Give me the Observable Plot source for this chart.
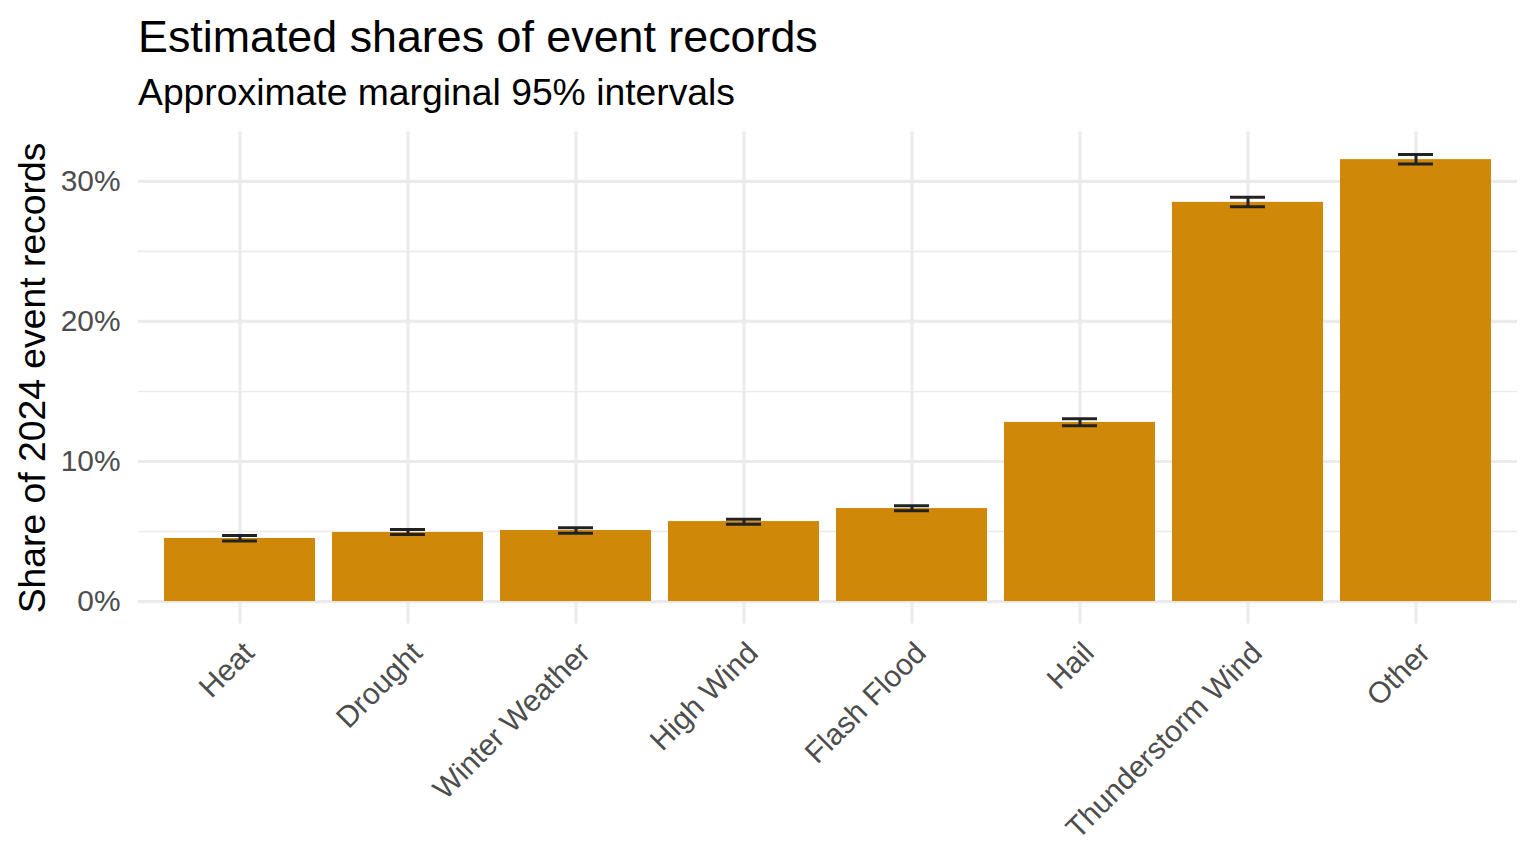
<!DOCTYPE html>
<html>
<head>
<meta charset="utf-8">
<script src="https://cdn.jsdelivr.net/npm/d3@7"></script>
<script src="https://cdn.jsdelivr.net/npm/@observablehq/plot@0.6"></script>
<style>
  html, body { margin: 0; padding: 0; background: #ffffff; }
  body { width: 1536px; height: 864px; overflow: hidden; font-family: "Liberation Sans", Arial, Helvetica, sans-serif; }
  #header { position: relative; height: 120px; width: 1536px; }
  #title { position: absolute; left: 138px; top: 14px; font-size: 44.8px; line-height: 1; color: #000; white-space: nowrap; }
  #subtitle { position: absolute; left: 138px; top: 74px; font-size: 37.3px; line-height: 1; color: #000; white-space: nowrap; }
  #chart svg { display: block; }
</style>
</head>
<body>
<div id="header">
  <div id="title">Estimated shares of event records</div>
  <div id="subtitle">Approximate marginal 95% intervals</div>
</div>
<div id="chart"></div>
<script>
const categories = ["Heat", "Drought", "Winter Weather", "High Wind", "Flash Flood", "Hail", "Thunderstorm Wind", "Other"];
const shares = [4.50, 4.93, 5.07, 5.71, 6.64, 12.79, 28.50, 31.55];
const lower  = [4.32, 4.79, 4.88, 5.52, 6.48, 12.55, 28.19, 31.24];
const upper  = [4.72, 5.14, 5.26, 5.88, 6.84, 13.05, 28.86, 31.92];
const yTicks = [0, 10, 20, 30];
const yMinorTicks = [5, 15, 25];
const yLabel = "Share of 2024 event records";

const data = categories.map((c, i) => ({category: c, share: shares[i], lower: lower[i], upper: upper[i]}));

const yMax = d3.max(upper);
const pad = yMax * 0.05;
const grid = "#ebebeb";
const errColor = "#222222";

const chart = Plot.plot({
  width: 1536,
  height: 744,
  marginTop: 11.6,
  marginBottom: 240.6,
  marginLeft: 138,
  marginRight: 19,
  style: {fontFamily: "Liberation Sans, Arial, Helvetica, sans-serif", background: "#ffffff", color: "#000"},
  x: {domain: categories, paddingInner: 0.1, paddingOuter: 0.15, axis: null},
  y: {domain: [-pad, yMax + pad], axis: null},
  marks: [
    Plot.ruleY(yMinorTicks, {stroke: grid, strokeWidth: 1.6}),
    Plot.ruleY(yTicks, {stroke: grid, strokeWidth: 3.2}),
    Plot.ruleX(categories, {x: d => d, stroke: grid, strokeWidth: 3.2}),
    Plot.barY(data, {x: "category", y: "share", fill: "#CF8808"}),
    Plot.ruleX(data, {x: "category", y1: "lower", y2: "upper", stroke: errColor, strokeWidth: 3}),
    Plot.tickY(data, {x: "category", y: "lower", stroke: errColor, strokeWidth: 3, insetLeft: 58, insetRight: 58}),
    Plot.tickY(data, {x: "category", y: "upper", stroke: errColor, strokeWidth: 3, insetLeft: 58, insetRight: 58}),
    Plot.axisY({ticks: yTicks, tickSize: 0, tickPadding: 18, tickFormat: d => `${d}%`, fontSize: 29.9, fill: "#4d4d4d", label: null}),
    Plot.axisX({tickSize: 0, tickRotate: -45, tickPadding: 12, dx: 9, dy: 12, fontSize: 29.9, fill: "#4d4d4d", label: null}),
    Plot.text([yLabel], {frameAnchor: "left", rotate: -90, dx: -120, lineAnchor: "top", textAnchor: "middle", fontSize: 37.3, fill: "#000"})
  ]
});
document.getElementById("chart").appendChild(chart);
</script>
</body>
</html>
